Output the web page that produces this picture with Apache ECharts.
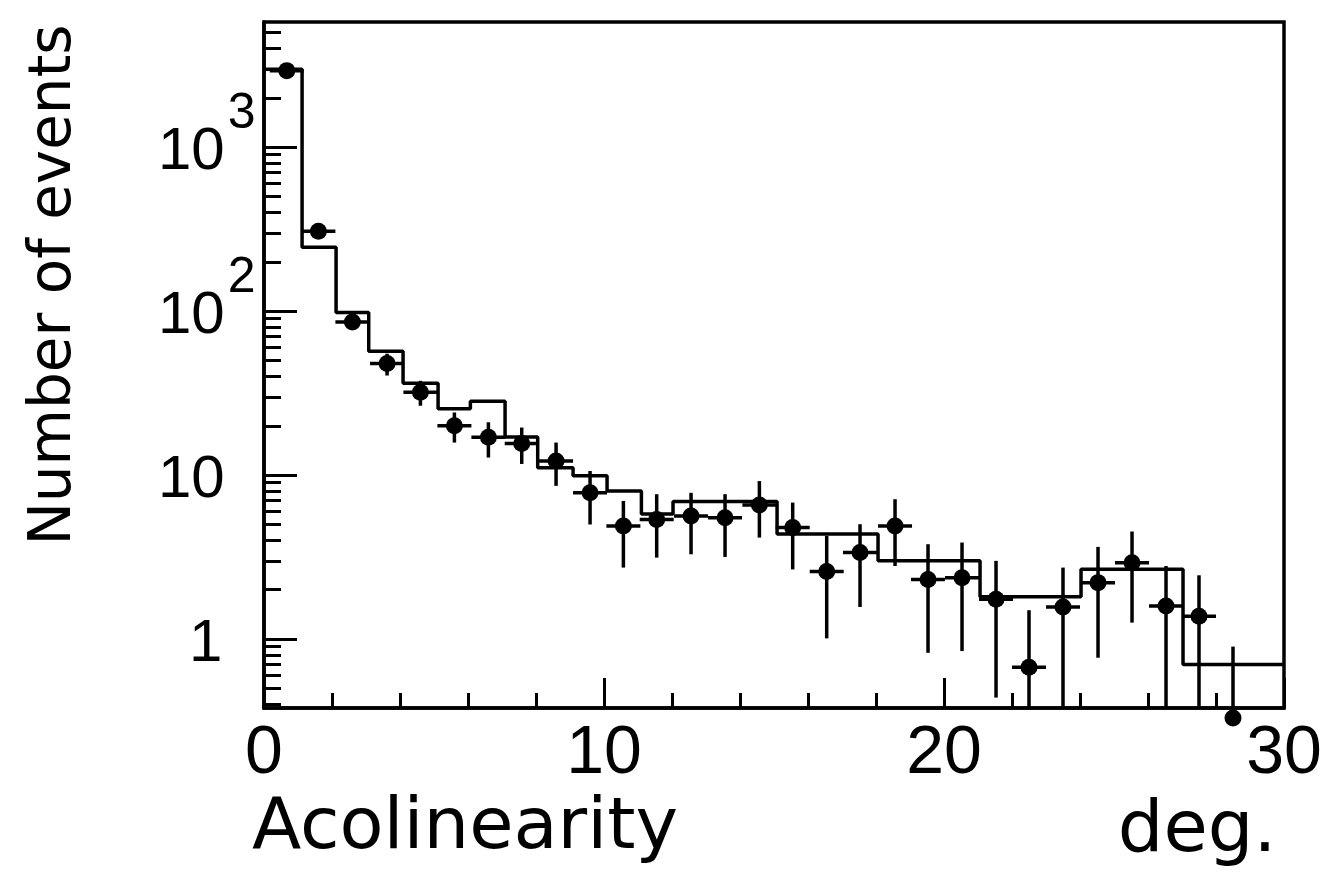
<!DOCTYPE html>
<html>
<head>
<meta charset="utf-8">
<script src="https://cdn.jsdelivr.net/npm/echarts@6/dist/echarts.min.js"></script>
<style>
html,body{margin:0;padding:0;background:#fff;}
#chart{width:1328px;height:876px;}
</style>
</head>
<body>
<div id="chart"></div>
<script>
// ---- data ----
// Monte Carlo histogram: bin edges (deg.) and contents (events)
const binEdges = [0, 1.12, 2.12, 3.08, 4.09, 5.12, 6.07, 7.09, 8.05, 9.09, 10.09, 11.1, 12.03, 15.09, 18.06, 21.06, 24.03, 27.03, 30];
const mcValues = [2990, 245, 98, 57, 36.3, 25.4, 28.2, 17.1, 11.1, 9.9, 8.0, 5.8, 6.9, 4.38, 3.0, 1.81, 2.67, 0.70];

// Measured data points (bin centres, counts, error bar ends)
const dataX = [0.67, 1.6, 2.6, 3.62, 4.6, 5.6, 6.6, 7.58, 8.59, 9.59, 10.57, 11.55, 12.56, 13.56, 14.57, 15.55, 16.55, 17.53, 18.56, 19.53, 20.53, 21.53, 22.5, 23.5, 24.53, 25.53, 26.53, 27.5, 28.5];
const dataY = [2930, 307, 86, 48, 32, 20, 17, 15.6, 12.2, 7.8, 4.9, 5.37, 5.64, 5.5, 6.57, 4.79, 2.58, 3.37, 4.9, 2.31, 2.37, 1.75, 0.674, 1.57, 2.21, 2.92, 1.59, 1.38, 0.33];
const errHigh = [3050, 325, 94, 55, 37.6, 24.1, 21, 19.5, 15.8, 10.6, 6.96, 7.65, 7.8, 7.65, 9.2, 6.8, 4.26, 5.02, 7.13, 3.79, 3.88, 3.0, 1.5, 2.73, 3.65, 4.53, 2.79, 2.45, 0.9];
const errLow = [2820, 290, 78, 40.5, 26.5, 15.8, 12.8, 11.7, 8.6, 5.0, 2.73, 3.14, 3.29, 3.17, 4.16, 2.66, 1.01, 1.57, 2.79, 0.825, 0.845, 0.44, 0.1, 0.1, 0.77, 1.26, 0.37, 0.1, 0.1];
const xHalfWidth = 0.5;

// Axis ticks / labels
const xTickLabels = [0, 10, 20, 30];
const yMajorTicks = [1, 10, 100, 1000];
const yMinorTicks = [0.4, 0.5, 0.6, 0.7, 0.8, 0.9, 2, 3, 4, 5, 6, 7, 8, 9, 20, 30, 40, 50, 60, 70, 80, 90, 200, 300, 400, 500, 600, 700, 800, 900, 2000, 3000, 4000, 5000];
const yMin = 0.38, yMax = 5800;

// ---- chart ----
const FONT = '"Liberation Sans", Arial, Helvetica, sans-serif';
const FONT2 = '"DejaVu Sans", Verdana, sans-serif';
const histData = binEdges.map((e, i) => [e, mcValues[Math.min(i, mcValues.length - 1)]]);
const pointData = dataX.map((x, i) => [x, dataY[i]]);
const errData = dataX.map((x, i) => [x, dataY[i], errHigh[i], errLow[i]]);

const chart = echarts.init(document.getElementById('chart'), null, {renderer: 'canvas'});
chart.setOption({
  backgroundColor: '#fff',
  animation: false,
  grid: {left: 264, right: 44, top: 22, bottom: 168, show: true, borderColor: '#000', borderWidth: 3.5, backgroundColor: 'transparent'},
  xAxis: [{
    type: 'value', min: 0, max: 30, interval: 10, position: 'bottom',
    axisLine: {show: true, lineStyle: {color: '#000', width: 3.5}},
    axisTick: {show: true, inside: true, length: 30, lineStyle: {color: '#000', width: 3}},
    minorTick: {show: true, splitNumber: 5, length: 15, lineStyle: {color: '#000', width: 3}},
    splitLine: {show: false},
    axisLabel: {color: '#000', fontSize: 68, fontFamily: FONT, margin: 12,
      customValues: xTickLabels},
    name: 'Acolinearity', nameLocation: 'middle', nameGap: 78,
    nameTextStyle: {color: '#000', fontSize: 72, fontFamily: FONT2, padding: [0, 618, 0, 0]}
  }, {
    type: 'value', min: 0, max: 30, position: 'bottom',
    axisLine: {show: false}, axisTick: {show: false}, axisLabel: {show: false}, splitLine: {show: false},
    name: 'deg.', nameLocation: 'middle', nameGap: 88,
    nameTextStyle: {color: '#000', fontSize: 72, fontFamily: FONT2, padding: [0, 0, 0, 846]}
  }],
  yAxis: [{
    type: 'log', logBase: 10, min: yMin, max: yMax, position: 'left',
    axisLine: {show: true, lineStyle: {color: '#000', width: 3.5}},
    axisTick: {show: true, inside: true, length: 33, customValues: yMajorTicks, lineStyle: {color: '#000', width: 3}},
    splitLine: {show: false},
    axisLabel: {
      customValues: yMajorTicks, margin: 106, align: 'left', color: '#000',
      padding: [0, 0, 23, 0],
      formatter: function (v) {
        const e = Math.round(Math.log10(v));
        if (e === 0) return '{one|1}';
        if (e === 1) return '{n|10}';
        return '{n|10}{s|' + e + '}';
      },
      rich: {
        n: {fontSize: 60, fontFamily: FONT, color: '#000', lineHeight: 93, verticalAlign: 'bottom'},
        one: {fontSize: 60, fontFamily: FONT, color: '#000', lineHeight: 93, verticalAlign: 'bottom', padding: [0, 0, 0, 31]},
        s: {fontSize: 50, fontFamily: FONT, color: '#000', lineHeight: 20, verticalAlign: 'top', padding: [0, 0, 0, 3]}
      }
    },
    name: 'Number of events', nameLocation: 'middle', nameGap: 180,
    nameTextStyle: {color: '#000', fontSize: 58, fontFamily: FONT2, padding: [0, 0, 0, 160]}
  }, {
    type: 'log', logBase: 10, min: yMin, max: yMax, position: 'left',
    axisLine: {show: false},
    axisTick: {show: true, inside: true, length: 17, customValues: yMinorTicks, lineStyle: {color: '#000', width: 3}},
    axisLabel: {show: false}, splitLine: {show: false}
  }],
  series: [{
    name: 'MC', type: 'line', step: 'end', data: histData,
    xAxisIndex: 0, yAxisIndex: 0, symbol: 'none', clip: true,
    lineStyle: {color: '#000', width: 3.5}, z: 2
  }, {
    name: 'errors', type: 'custom', data: errData, xAxisIndex: 0, yAxisIndex: 0,
    encode: {x: 0, y: 1}, z: 3,
    renderItem: function (params, api) {
      const cs = params.coordSys;
      const x = api.value(0), y = api.value(1);
      const top = api.coord([x, api.value(2)]);
      const bot = api.coord([x, api.value(3)]);
      const l = api.coord([x - xHalfWidth, y]);
      const r = api.coord([x + xHalfWidth, y]);
      const bottomY = cs.y + cs.height;
      const clampY = v => Math.max(cs.y, Math.min(bottomY, v));
      const children = [
        {type: 'line', shape: {x1: top[0], y1: clampY(top[1]), x2: bot[0], y2: clampY(bot[1])}, style: {stroke: '#000', lineWidth: 3.5}}
      ];
      if (l[1] <= bottomY) {
        children.push({type: 'line', shape: {x1: l[0], y1: l[1], x2: r[0], y2: r[1]}, style: {stroke: '#000', lineWidth: 3.5}});
      }
      return {type: 'group', children: children};
    }
  }, {
    name: 'Data', type: 'scatter', data: pointData, xAxisIndex: 0, yAxisIndex: 0,
    symbol: 'circle', symbolSize: 17, clip: false,
    itemStyle: {color: '#000', opacity: 1}, z: 4
  }]
});
</script>
</body>
</html>
